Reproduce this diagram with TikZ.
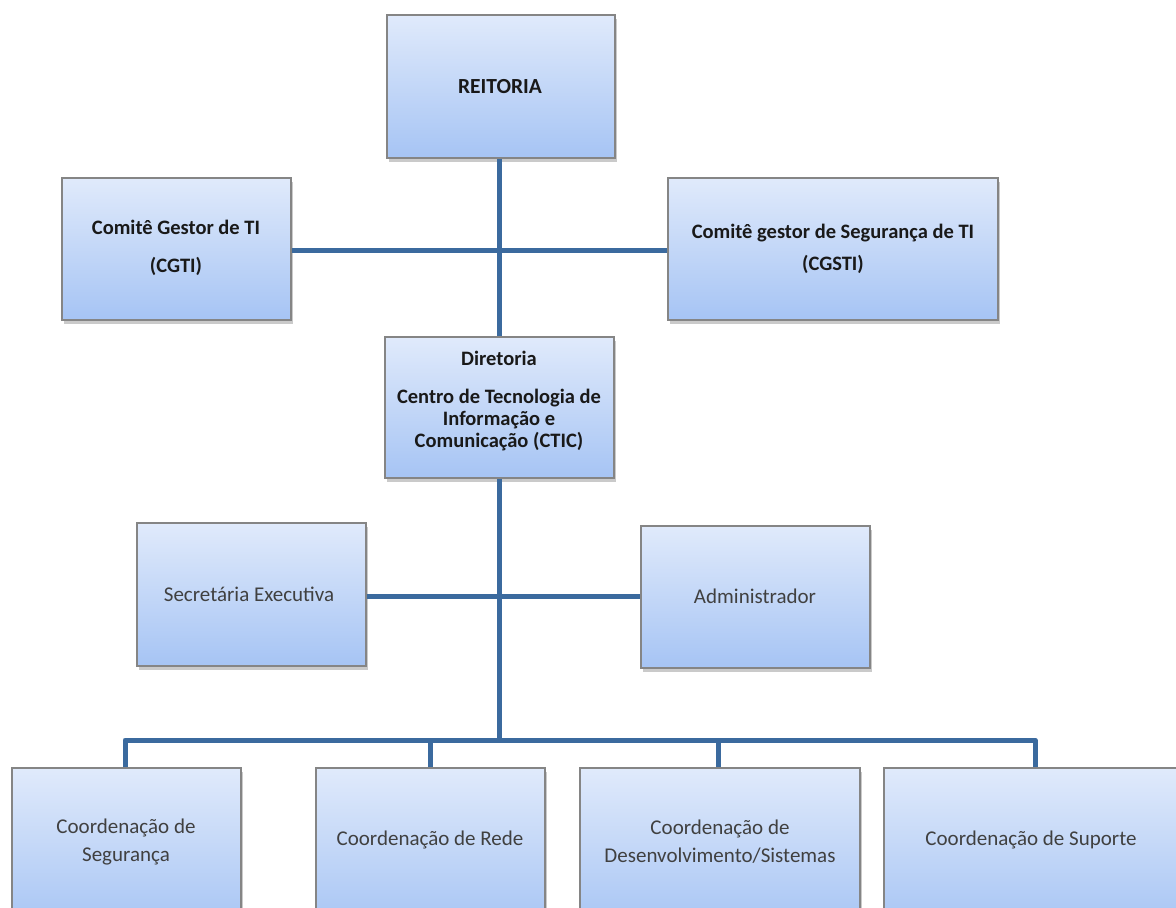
\documentclass[tikz,border=0pt]{standalone}
\usepackage{fontspec}
\setmainfont{Carlito}
\usetikzlibrary{shadows}
\definecolor{linec}{HTML}{3B6A9E}
\definecolor{boxtop}{HTML}{E0EAFB}
\definecolor{boxbot}{HTML}{A6C4F4}
\definecolor{boxedge}{HTML}{858585}
\tikzset{
  orgbox/.style={draw=boxedge, line width=1.6pt, top color=boxtop, bottom color=boxbot,
    drop shadow={shadow xshift=2pt, shadow yshift=-4pt, opacity=0.35, fill=black!60},
    inner sep=0pt, align=center, text=black!85},
  boldtxt/.style={font=\fontsize{20.5}{22}\selectfont\bfseries, text=black!90},
  plaintxt/.style={font=\fontsize{21}{28}\selectfont, text=black!75},
  conn/.style={draw=linec, line width=5pt}
}
\begin{document}
\begin{tikzpicture}[x=1pt,y=-1pt]
\useasboundingbox (0,0) rectangle (1176,908);
\newcommand{\orgnode}[6]{%
  \node[orgbox,#6, minimum width={#4-#2}, minimum height={#5-#3}] (#1) at ({(#2+#4)/2},{(#3+#5)/2}) {};}
\orgnode{reit}{387}{15}{615}{158}{}
\orgnode{cgti}{62}{178}{291}{320}{}
\orgnode{cgsti}{668}{178}{998}{320}{}
\orgnode{dir}{385}{337}{614}{478}{}
\orgnode{sec}{137}{523}{366}{666}{}
\orgnode{adm}{641}{526}{870}{668}{}
\orgnode{cseg}{12}{768}{241}{930}{}
\orgnode{crede}{316}{768}{545}{930}{}
\orgnode{cdes}{580}{768}{860}{930}{}
\orgnode{csup}{884}{768}{1190}{930}{}
% connectors
\coordinate (j1) at (499,250);
\coordinate (j2) at (499,596);
\coordinate (bus) at (499,740);
\coordinate (b1) at (125,740);
\coordinate (b2) at (430,740);
\coordinate (b3) at (718,740);
\coordinate (b4) at (1035,740);
\draw[conn] (reit.south -| j1) -- (dir.north -| j1);
\draw[conn] (cgti.east |- j1) -- (cgsti.west |- j1);
\draw[conn] (dir.south -| j2) -- (bus);
\draw[conn] (sec.east |- j2) -- (adm.west |- j2);
\draw[conn, line join=round] (cseg.north -| b1) -- (b1) -- (b4) -- (csup.north -| b4);
\draw[conn] (b2) -- (crede.north -| b2);
\draw[conn] (b3) -- (cdes.north -| b3);
% texts
\node[boldtxt, font=\fontsize{21.5}{22}\selectfont\bfseries] (treit) at (500,87) {REITORIA};
\node[boldtxt, align=center] (tcgti) at (176,248) {Comitê Gestor de TI\\[16pt](CGTI)};
\node[boldtxt, align=center] (tcgsti) at (833,249) {Comitê gestor de Segurança de TI\\[10pt](CGSTI)};
\node[boldtxt, align=center] (tdir) at (499,401) {Diretoria\\[16pt]Centro de Tecnologia de\\Informação e\\Comunicação (CTIC)};
\node[plaintxt] (tsec) at (249,594) {Secretária Executiva};
\node[plaintxt] (tadm) at (755,596) {Administrador};
\node[plaintxt, align=center] (tseg) at (126,842) {Coordenação de\\Segurança};
\node[plaintxt] (trede) at (430,840) {Coordenação de Rede};
\node[plaintxt, align=center] (tdes) at (720,842) {Coordenação de\\Desenvolvimento/Sistemas};
\node[plaintxt] (tsup) at (1031,840) {Coordenação de Suporte};
\end{tikzpicture}
\end{document}
